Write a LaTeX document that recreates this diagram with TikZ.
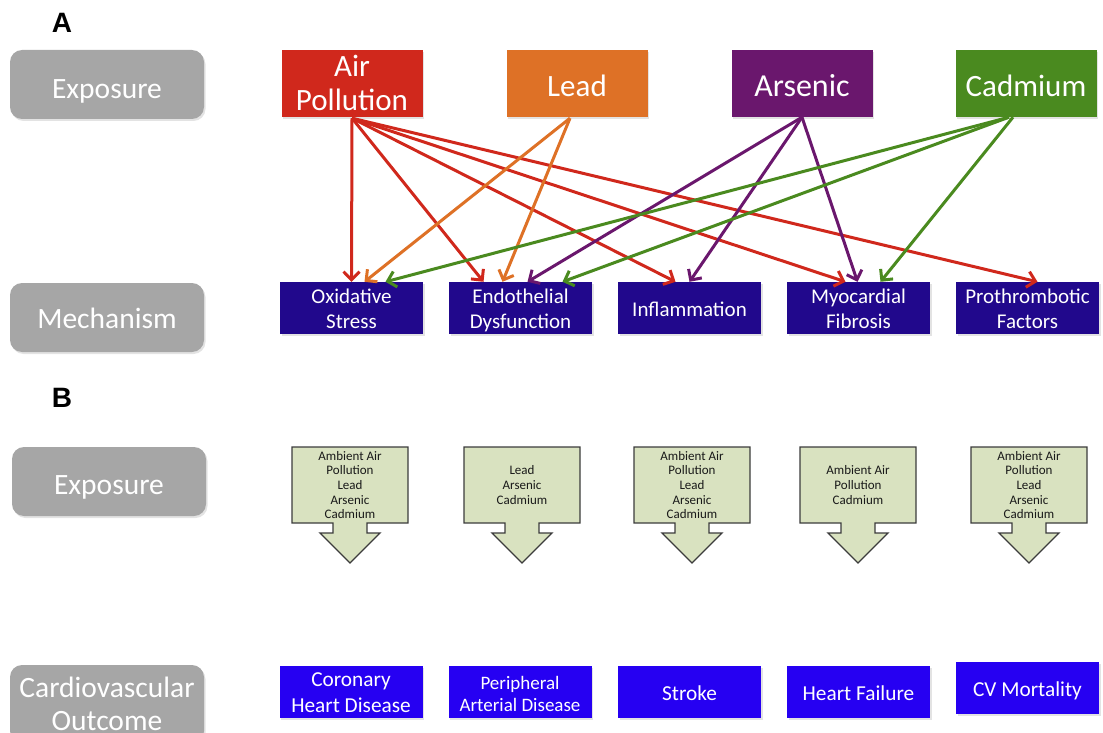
\documentclass[tikz,border=0pt]{standalone}
\usepackage{fontspec}
\setmainfont{Carlito}
\newfontfamily\panelfont{Liberation Sans}
\usetikzlibrary{arrows.meta,shadows,calc}
\definecolor{grayb}{HTML}{A6A6A6}
\definecolor{apred}{HTML}{D0281C}
\definecolor{leadorange}{HTML}{DE7126}
\definecolor{arspurple}{HTML}{6A176D}
\definecolor{cadgreen}{HTML}{4A8A1F}
\definecolor{navy}{HTML}{21088C}
\definecolor{outblue}{HTML}{2600F2}
\definecolor{sage}{HTML}{D9E2C0}
\definecolor{sageedge}{HTML}{3C3C3C}
\begin{document}
\begin{tikzpicture}[x=1pt,y=-1pt,
  softshadow/.style={drop shadow={shadow xshift=1.5pt,shadow yshift=-2pt,opacity=0.22}},
  graybox/.style={fill=grayb, rounded corners=12pt, minimum width=194pt, minimum height=69pt,
    text=white, font=\fontsize{29.5}{33}\selectfont, align=center, inner sep=0pt, softshadow},
  expbox/.style={minimum width=141pt, minimum height=67pt, text=white,
    font=\fontsize{31}{34}\selectfont, align=center, inner sep=0pt, softshadow,
    text height=27pt, text depth=0pt},
  mechbox/.style={fill=navy, minimum width=143pt, minimum height=52pt, text=white,
    font=\fontsize{21}{25}\selectfont, align=center, inner sep=0pt, softshadow,
    text height=16pt, text depth=0pt},
  twoline/.style={text height=40pt, text depth=0pt},
  outbox/.style={fill=outblue, minimum width=143pt, minimum height=52pt, text=white,
    font=\fontsize{21.3}{26}\selectfont, align=center, inner sep=0pt, softshadow,
    text height=16pt, text depth=0pt},
  conn/.style={line width=3pt, -{Straight Barb[length=8pt,width=16pt]}},
  blist/.style={align=center, text=black!90, font=\fontsize{13}{14.6}\selectfont, inner sep=0pt},
  panel/.style={font=\panelfont\bfseries\fontsize{28}{30}\selectfont, anchor=base, inner sep=0pt},
  exparrow/.pic={\draw[fill=sage, draw=sageedge, line width=1.3pt, line join=miter]
    (-58,-38) -- (58,-38) -- (58,38) -- (17,38) -- (17,48) -- (30,48) -- (0,78)
    -- (-30,48) -- (-17,48) -- (-17,38) -- (-58,38) -- cycle;}
]
\useasboundingbox (0,0) rectangle (1103,733);
\clip (0,0) rectangle (1103,733);

% panel labels
\node[panel] (pa) at (62,33) {A};
\node[panel] (pb) at (62,407) {B};

% gray row labels
\node[graybox, text height=29pt, text depth=0pt] (gexpA) at (107,84.5) {Exposure};
\node[graybox, text height=21pt, text depth=0pt] (gmech) at (107,317.5) {Mechanism};
\node[graybox, text height=25pt, text depth=0pt] (gexpB) at (109,481.5) {Exposure};
\node[graybox, minimum height=78pt] (gout) at (107,704) {Cardiovascular\\Outcome};

% exposures (A)
\node[expbox, fill=apred, text height=55pt] (ap) at (352,83.5) {Air\\Pollution};
\node[expbox, fill=leadorange] (pb2) at (577,83.5) {Lead};
\node[expbox, fill=arspurple, font=\fontsize{32}{34}\selectfont] (as) at (802,83.5) {Arsenic};
\node[expbox, fill=cadgreen] (cd) at (1026,83.5) {Cadmium};

% mechanisms
\node[mechbox, twoline] (os) at (351.5,308) {Oxidative\\Stress};
\node[mechbox, twoline] (ed) at (520.5,308) {Endothelial\\Dysfunction};
\node[mechbox] (inf) at (689.5,308) {Inflammation};
\node[mechbox, twoline] (mf) at (858.5,308) {Myocardial\\Fibrosis};
\node[mechbox, twoline] (pf) at (1027.5,308) {Prothrombotic\\Factors};

% origins
\coordinate (apo) at ($(ap.south)+(0,1)$);
\coordinate (pbo) at ($(pb2.south)+(-7,1)$);
\coordinate (aso) at ($(as.south)+(0,0)$);
\coordinate (cdo) at ($(cd.south)+(-17,0)$);

% air pollution arrows
\draw[conn, apred] (apo) -- (os.north);
\draw[conn, apred] (apo) -- ([xshift=-37pt]ed.north);
\draw[conn, apred] (apo) -- ([xshift=-14pt]inf.north);
\draw[conn, apred] (apo) -- ([xshift=-13pt]mf.north);
\draw[conn, apred] (apo) -- ([xshift=10pt]pf.north);
% lead arrows
\draw[conn, leadorange] (pbo) -- ([xshift=13pt]os.north);
\draw[conn, leadorange] (pbo) -- ([xshift=-18pt]ed.north);
% arsenic arrows
\draw[conn, arspurple] (aso) -- ([xshift=7pt]ed.north);
\draw[conn, arspurple] (aso) -- (inf.north);
\draw[conn, arspurple] (aso) -- ([xshift=-1pt]mf.north);
% cadmium arrows
\draw[conn, cadgreen] (cdo) -- ([xshift=34pt]os.north);
\draw[conn, cadgreen] (cdo) -- ([xshift=42pt]ed.north);
\draw[conn, cadgreen] ([xshift=4pt]cdo) -- ([xshift=22pt]mf.north);

% exposure arrows (B)
\pic at (350,485) {exparrow};
\pic at (522,485) {exparrow};
\pic at (692,485) {exparrow};
\pic at (858,485) {exparrow};
\pic at (1029,485) {exparrow};
\node[blist] (b1) at (350,485) {Ambient Air\\Pollution\\Lead\\Arsenic\\Cadmium};
\node[blist] (b2) at (522,485) {Lead\\Arsenic\\Cadmium};
\node[blist] (b3) at (692,485) {Ambient Air\\Pollution\\Lead\\Arsenic\\Cadmium};
\node[blist] (b4) at (858,485) {Ambient Air\\Pollution\\Cadmium};
\node[blist] (b5) at (1029,485) {Ambient Air\\Pollution\\Lead\\Arsenic\\Cadmium};

% outcomes
\node[outbox, twoline] (chd) at (351,692) {Coronary\\Heart Disease};
\node[outbox, font=\fontsize{19}{22}\selectfont, text height=38pt] (pad) at (520,692) {Peripheral\\Arterial Disease};
\node[outbox] (str) at (689.5,692) {Stroke};
\node[outbox] (hf) at (858.5,692) {Heart Failure};
\node[outbox] (cvm) at (1027.5,688) {CV Mortality};
\end{tikzpicture}
\end{document}
